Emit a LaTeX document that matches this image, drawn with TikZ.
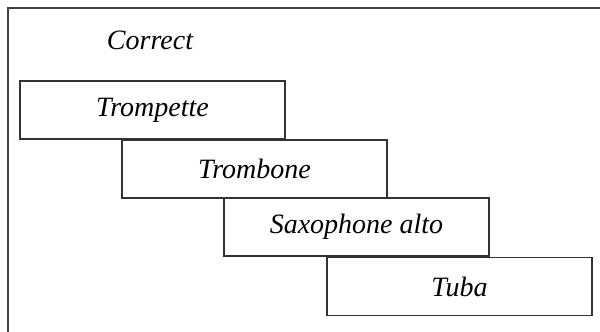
\documentclass[tikz,border=0pt]{standalone}
\usepackage{fontspec}
\setmainfont{Liberation Serif}
\begin{document}
\begin{tikzpicture}[x=1pt,y=-1pt,
  lbl/.style={font=\fontsize{28}{32}\selectfont\itshape},
  box/.style={draw=black!80, line width=1.2pt, minimum width=265pt, minimum height=58pt, inner sep=0pt, lbl},
  frame/.style={draw=black!75, line width=1.4pt}]
\useasboundingbox (0,0) rectangle (600,332);
\coordinate (fb) at (8,332);
\coordinate (fc) at (8,8);
\coordinate (fr) at (600,8);
\draw[frame] (fb) -- (fc) -- (fr);
\node[lbl] (t) at (150,40) {Correct};
\node[box] (a) at (152.5,110) {Trompette};
\node[box] (b) at (254.5,169) {Trombone};
\node[box] (c) at (356.5,227) {Saxophone alto};
\node[box] (d) at (459.5,286.5) {Tuba};
\end{tikzpicture}
\end{document}
